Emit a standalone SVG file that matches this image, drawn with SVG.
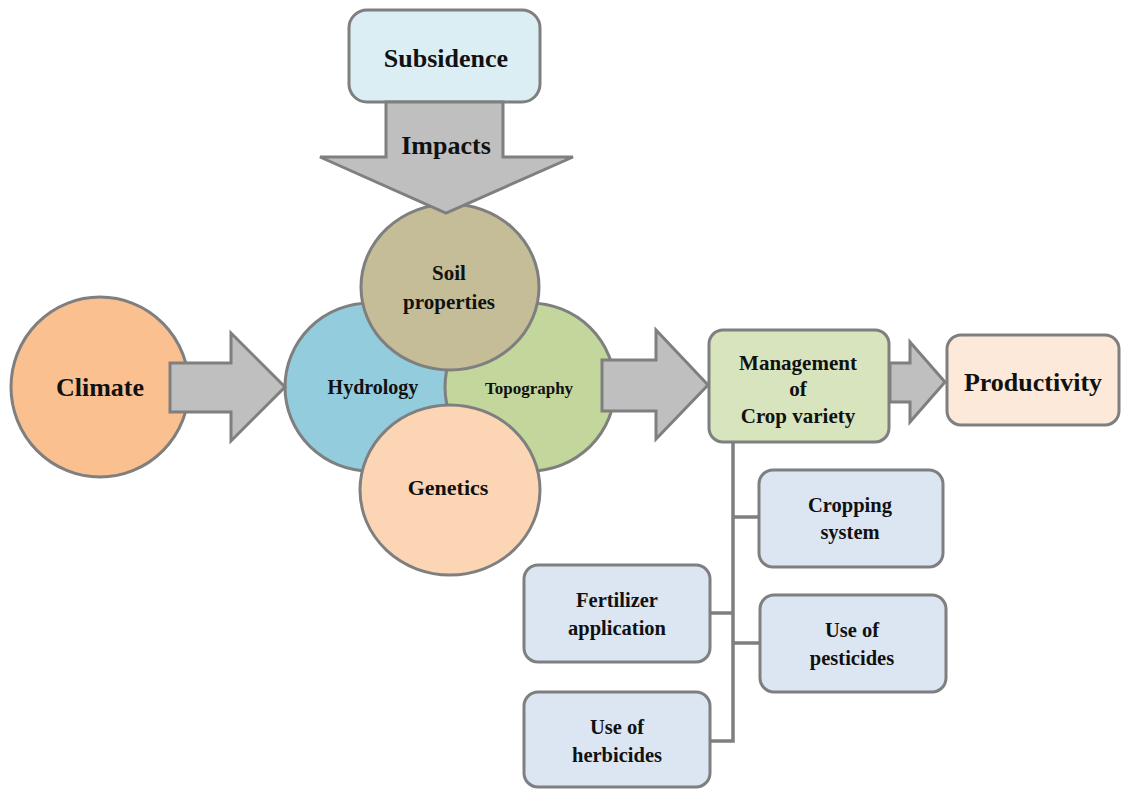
<svg xmlns="http://www.w3.org/2000/svg" width="1122" height="789" viewBox="0 0 1122 789">
<style>
.s{stroke:#7f7f7f;stroke-width:3}
.ar{fill:#bfbfbf;stroke:#7f7f7f;stroke-width:3;stroke-linejoin:miter}
.ln{fill:none;stroke:#7f7f7f;stroke-width:3.5}
text{font-family:"Liberation Serif","Times New Roman",serif;font-weight:bold;fill:#111;text-anchor:middle}
.box{fill:#dce6f2}
</style>
<rect width="1122" height="789" fill="#ffffff"/>
<g id="subsidence"><rect class="s" x="349" y="10" width="191" height="92" rx="18" fill="#dbeef4"/><text x="446" y="67" font-size="26">Subsidence</text></g>
<g id="climate"><ellipse class="s" cx="100" cy="387" rx="89" ry="90" fill="#fac090"/><text x="100" y="396" font-size="26">Climate</text></g>
<g id="hydrology"><ellipse class="s" cx="370" cy="387" rx="85" ry="84" fill="#93cddd"/><text x="373" y="394" font-size="20">Hydrology</text></g>
<g id="topography"><ellipse class="s" cx="530" cy="387" rx="85" ry="84" fill="#c3d69b"/><text x="529" y="394" font-size="17">Topography</text></g>
<g id="soil"><ellipse class="s" cx="450" cy="287" rx="89" ry="83" fill="#c4bd97"/><text x="449" y="280" font-size="21">Soil</text><text x="449" y="309" font-size="21">properties</text></g>
<g id="genetics"><ellipse class="s" cx="450" cy="490" rx="90" ry="85" fill="#fcd5b5"/><text x="448" y="495" font-size="22">Genetics</text></g>
<g id="management"><rect class="s" x="709" y="330" width="180" height="112" rx="14" fill="#d7e4bd"/><text x="798" y="370" font-size="21">Management</text><text x="798" y="396" font-size="21">of</text><text x="798" y="423" font-size="21">Crop variety</text></g>
<g id="productivity"><rect class="s" x="947" y="335" width="172" height="90" rx="14" fill="#fde9d9"/><text x="1033" y="391" font-size="26">Productivity</text></g>
<g id="cropping"><rect class="s box" x="759" y="470" width="184" height="97" rx="14"/><text x="850" y="512" font-size="20.5">Cropping</text><text x="850" y="539" font-size="20.5">system</text></g>
<g id="fertilizer"><rect class="s box" x="524" y="565" width="186" height="97" rx="14"/><text x="617" y="607" font-size="20.5">Fertilizer</text><text x="617" y="635" font-size="20.5">application</text></g>
<g id="pesticides"><rect class="s box" x="760" y="595" width="186" height="97" rx="14"/><text x="852" y="637" font-size="20.5">Use of</text><text x="852" y="665" font-size="20.5">pesticides</text></g>
<g id="herbicides"><rect class="s box" x="524" y="692" width="186" height="95" rx="14"/><text x="617" y="734" font-size="20.5">Use of</text><text x="617" y="762" font-size="20.5">herbicides</text></g>
<g id="connectors">
<polygon class="ar" points="386,102 503,102 503,157 573,157 446,213 320,157 386,157"/>
<text x="446" y="154" font-size="26">Impacts</text>
<polygon class="ar" points="170,363 231,363 231,333 285,387 231,441 231,412 170,412"/>
<polygon class="ar" points="602,360 656,360 656,330 708,385 656,439 656,411 602,411"/>
<polygon class="ar" points="890,363 910,363 910,342 945,382 910,422 910,402 890,402"/>
<path class="ln" d="M733,442 V741 H710 M733,517 H759 M733,613 H710 M733,643 H760"/>
</g>
</svg>
